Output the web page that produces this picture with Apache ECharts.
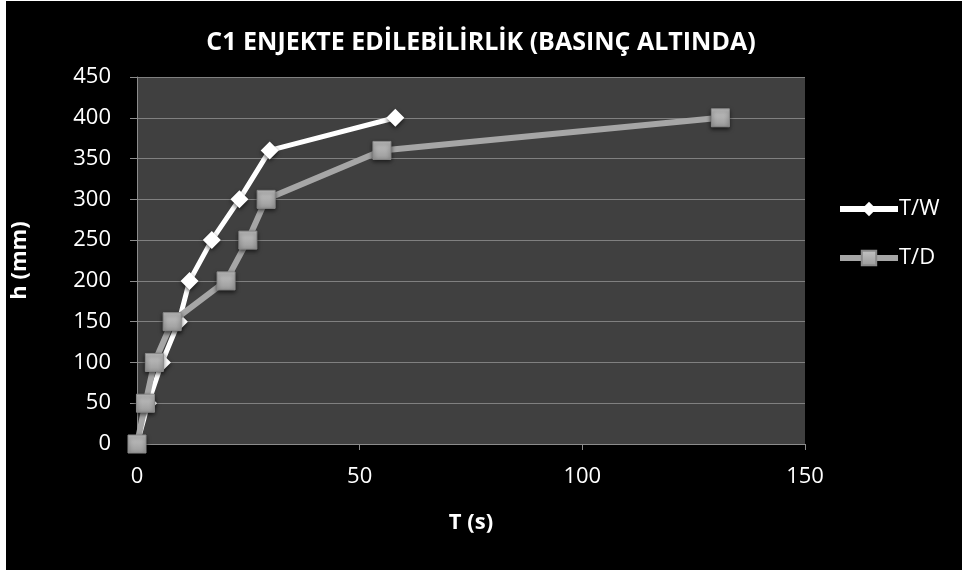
<!DOCTYPE html>
<html>
<head>
<meta charset="utf-8">
<script src="https://cdn.jsdelivr.net/npm/echarts@6/dist/echarts.min.js"></script>
<style>
  html, body { margin: 0; padding: 0; background: #000; }
  #chart { width: 962px; height: 570px; }
</style>
</head>
<body>
<div id="chart"></div>
<script>
// h levels (mm), shared by both series
var heights = [0, 50, 100, 150, 200, 250, 300, 360, 400];
// times (s)
var timeTW = [0, 2.5, 5.6, 9.4, 11.8, 16.8, 23.0, 29.8, 58.0];
var timeTD = [0, 1.9, 3.9, 7.9, 20.0, 24.9, 29.0, 55.0, 131.0];
var seriesNames = ['T/W', 'T/D'];

function pairs(xs, ys) {
  return xs.map(function (x, i) { return [x, ys[i]]; });
}

var font = 'Open Sans';
var chart = echarts.init(document.getElementById('chart'));

chart.setOption({
  backgroundColor: '#000',
  animation: false,
  textStyle: { fontFamily: font },
  title: {
    text: 'C1 ENJEKTE EDİLEBİLİRLİK (BASINÇ ALTINDA)',
    left: 'center',
    top: 25,
    textStyle: { color: '#fff', fontSize: 25, fontWeight: 'bold', fontFamily: font }
  },
  graphic: [
    { type: 'rect', shape: { x: 0, y: 0, width: 6, height: 570 }, style: { fill: '#fff' } },
    { type: 'rect', shape: { x: 0, y: 0, width: 962, height: 1 }, style: { fill: '#fff' } }
  ],
  legend: {
    orient: 'vertical',
    left: 832,
    top: 193,
    itemGap: 27,
    itemWidth: 58,
    itemHeight: 18,
    lineStyle: { width: 6 },
    textStyle: { color: '#fff', fontSize: 22, fontFamily: font, padding: [0, 0, 0, -4] },
    data: seriesNames
  },
  grid: {
    left: 137,
    right: 157,
    top: 77,
    bottom: 126,
    show: true,
    backgroundColor: '#404040',
    borderWidth: 0
  },
  xAxis: {
    type: 'value',
    min: 0,
    max: 150,
    interval: 50,
    name: 'T (s)',
    nameLocation: 'middle',
    nameGap: 68,
    nameTextStyle: { color: '#fff', fontSize: 22, fontWeight: 'bold', fontFamily: font },
    axisLine: { show: true, lineStyle: { color: '#8c8c8c', width: 1 } },
    axisTick: { show: true, length: 6, lineStyle: { color: '#8c8c8c' } },
    axisLabel: { color: '#fff', fontSize: 22, margin: 22 },
    splitLine: { show: false }
  },
  yAxis: {
    type: 'value',
    min: 0,
    max: 450,
    interval: 50,
    name: 'h (mm)',
    nameLocation: 'middle',
    nameGap: 106,
    nameTextStyle: { color: '#fff', fontSize: 22, fontWeight: 'bold', fontFamily: font },
    axisLine: { show: true, lineStyle: { color: '#8c8c8c', width: 1 } },
    axisTick: { show: true, length: 7, lineStyle: { color: '#8c8c8c' } },
    axisLabel: { color: '#fff', fontSize: 22, margin: 26 },
    splitLine: { show: true, lineStyle: { color: '#808080', width: 1 } }
  },
  series: [
    {
      name: seriesNames[0],
      type: 'line',
      data: pairs(timeTW, heights),
      symbol: 'diamond',
      symbolSize: 18,
      z: 2,
      lineStyle: { color: '#fff', width: 5 },
      itemStyle: { color: '#fff', shadowColor: 'rgba(0,0,0,0.6)', shadowBlur: 4, shadowOffsetY: 2 }
    },
    {
      name: seriesNames[1],
      type: 'line',
      data: pairs(timeTD, heights),
      symbol: 'rect',
      symbolSize: 18,
      z: 3,
      lineStyle: { color: '#a6a6a6', width: 6 },
      itemStyle: {
        color: new echarts.graphic.LinearGradient(0, 0, 0, 1, [
          { offset: 0, color: '#c4c4c4' },
          { offset: 1, color: '#9a9a9a' }
        ]),
        borderColor: '#8a8a8a',
        borderWidth: 1,
        shadowColor: 'rgba(0,0,0,0.6)', shadowBlur: 4, shadowOffsetY: 2
      }
    }
  ]
});
</script>
</body>
</html>
